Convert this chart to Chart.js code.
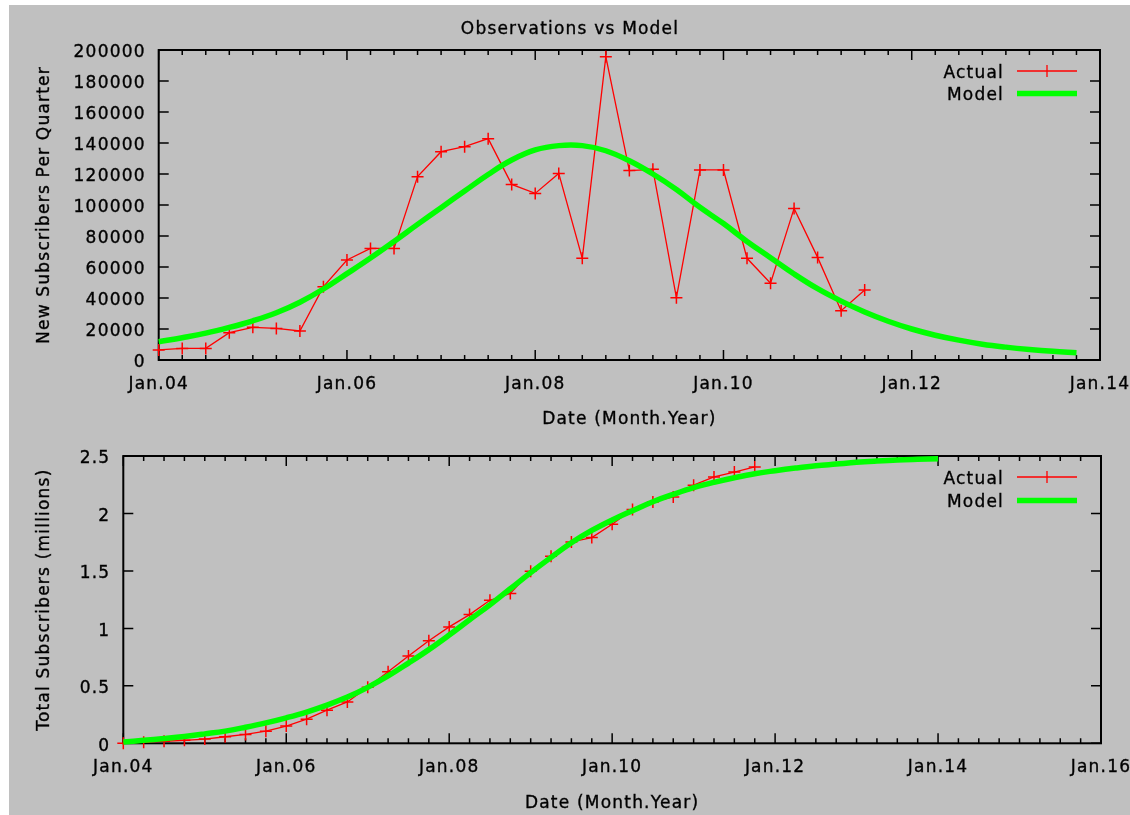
<!DOCTYPE html>
<html>
<head>
<meta charset="utf-8">
<title>Observations vs Model</title>
<script src="https://cdn.jsdelivr.net/npm/chart.js@4.4.1/dist/chart.umd.min.js"></script>
<style>
  html, body { margin: 0; padding: 0; background: #ffffff; overflow: hidden; }
  #sheet { position: absolute; left: 9px; top: 5px; width: 1121px; height: 810px; background: #c0c0c0; }
  canvas { position: absolute; left: 0; }
  #topChart { top: 0; }
  #bottomChart { top: 430px; }
</style>
</head>
<body>
<div id="sheet"></div>
<canvas id="topChart" width="1130" height="430"></canvas>
<canvas id="bottomChart" width="1130" height="385"></canvas>
<script>
// quarter dates (Month.Year)
var quarters = [
  'Jan.04', 'Apr.04', 'Jul.04', 'Oct.04', 'Jan.05', 'Apr.05', 'Jul.05', 'Oct.05',
  'Jan.06', 'Apr.06', 'Jul.06', 'Oct.06', 'Jan.07', 'Apr.07', 'Jul.07', 'Oct.07',
  'Jan.08', 'Apr.08', 'Jul.08', 'Oct.08', 'Jan.09', 'Apr.09', 'Jul.09', 'Oct.09',
  'Jan.10', 'Apr.10', 'Jul.10', 'Oct.10', 'Jan.11', 'Apr.11', 'Jul.11', 'Oct.11',
  'Jan.12', 'Apr.12', 'Jul.12', 'Oct.12', 'Jan.13', 'Apr.13', 'Jul.13', 'Oct.13',
  'Jan.14'
];

// new subscribers per quarter
var newActual = [
  6500, 7500, 7500, 17600, 21100, 20400, 18700, 47300,
  64500, 72000, 72000, 118300, 134400, 137600, 142800, 113300,
  107500, 120400, 65600, 195700, 122200, 123000, 40200, 122600,
  122600, 65600, 49500, 97800, 66200, 31800, 45200
];
var newModel = [
  11800, 14400, 17300, 21000, 25300, 30500, 37300, 45800,
  55700, 65800, 76500, 87500, 98300, 109000, 119700, 129000,
  135500, 138300, 138300, 135000, 128500, 120000, 110000, 98500,
  88000, 76500, 66000, 55500, 46000, 38000, 31000, 25000,
  20000, 16000, 12800, 10200, 8300, 6800, 5600, 4700
];

// total subscribers (millions)
var totalActual = [
  0.0, 0.01, 0.018, 0.026, 0.037, 0.057, 0.077, 0.105,
  0.15, 0.21, 0.288, 0.36, 0.488, 0.622, 0.759, 0.893,
  1.013, 1.12, 1.245, 1.303, 1.497, 1.628, 1.752, 1.79,
  1.906, 2.034, 2.1, 2.144, 2.246, 2.318, 2.36, 2.405
];
var totalModel = [
  0.012, 0.026, 0.042, 0.06, 0.082, 0.106, 0.14, 0.178,
  0.222, 0.272, 0.332, 0.402, 0.487, 0.586, 0.698, 0.815,
  0.942, 1.075, 1.205, 1.345, 1.485, 1.618, 1.745, 1.852,
  1.943, 2.024, 2.102, 2.166, 2.224, 2.271, 2.311, 2.346,
  2.372, 2.395, 2.415, 2.43, 2.445, 2.456, 2.465, 2.471,
  2.476
];

var INK = '#000000';
var RED = '#ff0000';
var GREEN = '#00ff00';
var FONT_FAMILY = 'DejaVu Sans';
var FONT_SIZE = 17;
var LETTER_SPACING = '1.2px';
var TEXT_STROKE = 0.35;
var TEXT_DROP = 2.5; // 'middle' baseline sits a bit high for DejaVu

var monthOffset = { Jan: 0, Apr: 0.25, Jul: 0.5, Oct: 0.75 };

// 'Apr.06' -> 2006.25
function quarterToYear(label) {
  var parts = label.split('.');
  return 2000 + parseInt(parts[1], 10) + monthOffset[parts[0]];
}

function toPoints(values) {
  return values.map(function(v, i) {
    return { x: quarterToYear(quarters[i]), y: v };
  });
}

function yearLabel(value) {
  return 'Jan.' + String(value).slice(2);
}

function inkText(ctx, text, x, y) {
  ctx.fillText(text, x, y);
  ctx.strokeText(text, x, y);
}

// gnuplot style border, inward ticks, titles and key
var gnuplotFrame = {
  id: 'gnuplotFrame',
  beforeDraw: function(chart) {
    chart.ctx.letterSpacing = LETTER_SPACING;
  },
  beforeDatasetsDraw: function(chart) {
    var ctx = chart.ctx;
    var a = chart.chartArea;
    var xs = chart.scales.x;
    var ys = chart.scales.y;
    ctx.save();
    ctx.strokeStyle = INK;
    ctx.lineWidth = 1.5;
    ctx.beginPath();
    for (var q = xs.min; q <= xs.max + 1e-9; q += 0.25) {
      var px = xs.getPixelForValue(q);
      var major = Math.abs(q / 2 - Math.round(q / 2)) < 1e-9;
      var len = major ? 10 : 5;
      ctx.moveTo(px, a.bottom); ctx.lineTo(px, a.bottom - len);
      ctx.moveTo(px, a.top); ctx.lineTo(px, a.top + len);
    }
    ys.ticks.forEach(function(t) {
      var py = ys.getPixelForValue(t.value);
      ctx.moveTo(a.left, py); ctx.lineTo(a.left + 10, py);
      ctx.moveTo(a.right, py); ctx.lineTo(a.right - 10, py);
    });
    ctx.stroke();
    ctx.lineWidth = 2;
    ctx.strokeRect(a.left, a.top, a.right - a.left, a.bottom - a.top);
    ctx.restore();
  },
  afterDraw: function(chart, args, opts) {
    var ctx = chart.ctx;
    var a = chart.chartArea;
    ctx.save();
    ctx.letterSpacing = LETTER_SPACING;
    ctx.font = FONT_SIZE + 'px "' + FONT_FAMILY + '"';
    ctx.fillStyle = INK;
    ctx.strokeStyle = INK;
    ctx.lineWidth = TEXT_STROKE;
    ctx.textBaseline = 'middle';
    ctx.textAlign = 'center';
    if (opts.title) {
      inkText(ctx, opts.title, opts.titleX, opts.titleY + TEXT_DROP);
    }
    inkText(ctx, opts.xTitle, (a.left + a.right) / 2, opts.xTitleY + TEXT_DROP);
    ctx.save();
    ctx.translate(opts.yTitleX, (a.top + a.bottom) / 2);
    ctx.rotate(-Math.PI / 2);
    inkText(ctx, opts.yTitle, 0, TEXT_DROP);
    ctx.restore();

    // key, Actual first then Model
    var x0 = opts.keyLineStart, x1 = opts.keyLineEnd;
    chart.data.datasets.slice().sort(function(p, q) { return p.keyRow - q.keyRow; })
      .forEach(function(ds, row) {
        var ky = opts.keyTop + row * opts.keyStep;
        ctx.textAlign = 'right';
        ctx.fillStyle = INK;
        ctx.strokeStyle = INK;
        ctx.lineWidth = TEXT_STROKE;
        inkText(ctx, ds.label, opts.keyTextRight, ky + TEXT_DROP);
        ctx.strokeStyle = ds.borderColor;
        ctx.lineWidth = ds.borderWidth;
        ctx.beginPath();
        ctx.moveTo(x0, ky); ctx.lineTo(x1, ky);
        if (ds.pointRadius > 0) {
          var mx = (x0 + x1) / 2;
          ctx.moveTo(mx, ky - ds.pointRadius); ctx.lineTo(mx, ky + ds.pointRadius);
        }
        ctx.stroke();
      });
    ctx.restore();
  }
};

// keep the plot box where we put it: no extra room for overhanging labels
function fixSize(prop, size) {
  return function(scale) {
    scale[prop] = size;
    scale.paddingLeft = 0;
    scale.paddingRight = 0;
    scale.paddingTop = 0;
    scale.paddingBottom = 0;
  };
}

function makeChart(canvasId, actual, model, xMax, yMax, yStep, frame, box) {
  var ctx = document.getElementById(canvasId).getContext('2d');
  var tickFont = { family: FONT_FAMILY, size: FONT_SIZE };
  return new Chart(ctx, {
    type: 'line',
    data: {
      datasets: [
        {
          label: 'Model',
          keyRow: 1,
          data: toPoints(model),
          borderColor: GREEN,
          borderWidth: 5.5,
          pointRadius: 0,
          tension: 0.4,
          clip: false
        },
        {
          label: 'Actual',
          keyRow: 0,
          data: toPoints(actual),
          borderColor: RED,
          backgroundColor: RED,
          borderWidth: 1.3,
          tension: 0,
          pointStyle: 'cross',
          pointRadius: 6,
          pointBorderWidth: 1.5,
          pointBorderColor: RED,
          clip: false
        }
      ]
    },
    options: {
      responsive: false,
      animation: false,
      events: [],
      layout: {
        autoPadding: false,
        padding: { left: 0, right: box.right, top: box.top, bottom: 0 }
      },
      scales: {
        x: {
          type: 'linear',
          min: 2004,
          max: xMax,
          grid: { display: false, drawTicks: false },
          border: { display: false },
          ticks: {
            stepSize: 2,
            autoSkip: false,
            maxRotation: 0,
            padding: box.xPad,
            color: INK,
            textStrokeColor: INK,
            textStrokeWidth: TEXT_STROKE,
            font: tickFont,
            callback: yearLabel
          },
          afterFit: fixSize('height', box.xHeight)
        },
        y: {
          type: 'linear',
          min: 0,
          max: yMax,
          grid: { display: false, drawTicks: false },
          border: { display: false },
          ticks: {
            stepSize: yStep,
            padding: 13,
            labelOffset: 3,
            color: INK,
            textStrokeColor: INK,
            textStrokeWidth: TEXT_STROKE,
            font: tickFont,
            callback: function(v) { return String(v); }
          },
          afterFit: fixSize('width', box.yWidth)
        }
      },
      plugins: {
        legend: { display: false },
        tooltip: { enabled: false },
        gnuplotFrame: frame
      }
    },
    plugins: [gnuplotFrame]
  });
}

makeChart('topChart', newActual, newModel, 2014, 200000, 20000, {
  title: 'Observations vs Model', titleX: 570, titleY: 27,
  xTitle: 'Date (Month.Year)', xTitleY: 417,
  yTitle: 'New Subscribers Per Quarter', yTitleX: 42,
  keyTextRight: 1004, keyLineStart: 1017, keyLineEnd: 1077, keyTop: 71, keyStep: 22.5
}, { yWidth: 158.7, right: 30, top: 50, xHeight: 70, xPad: 14 });

makeChart('bottomChart', totalActual, totalModel, 2016, 2.5, 0.5, {
  xTitle: 'Date (Month.Year)', xTitleY: 371,
  yTitle: 'Total Subscribers (millions)', yTitleX: 42,
  keyTextRight: 1004, keyLineStart: 1017, keyLineEnd: 1077, keyTop: 47, keyStep: 23.5
}, { yWidth: 123.3, right: 29, top: 26, xHeight: 71.7, xPad: 14 });
</script>
</body>
</html>
